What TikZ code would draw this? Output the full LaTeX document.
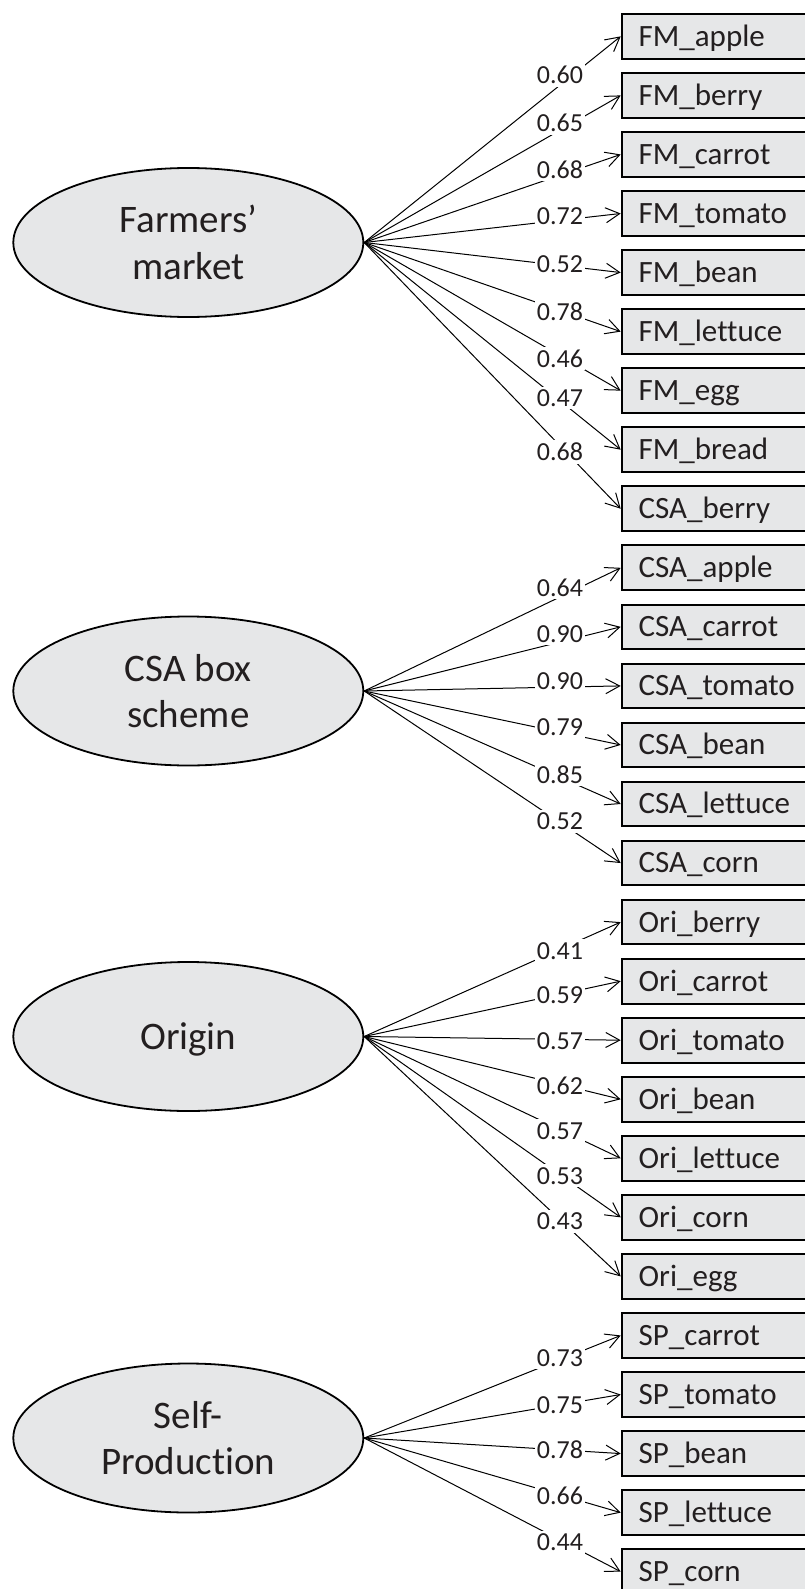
\documentclass[tikz,border=0pt]{standalone}
\usepackage{fontspec}
\setmainfont{Carlito}[Ligatures=NoCommon]
\usetikzlibrary{shapes.geometric,arrows.meta}
\definecolor{fillg}{HTML}{E6E7E8}
\definecolor{txt}{HTML}{231F20}
\begin{document}
\begin{tikzpicture}[x=1pt,y=-1pt,
  latent/.style={ellipse, draw=black, line width=1.8pt, fill=fillg, minimum width=350pt, minimum height=149pt, inner sep=0pt, align=center, text depth=0pt, text=txt, font=\fontsize{39}{46.7}\selectfont},
  obs/.style={rectangle, draw=black, line width=2pt, fill=fillg, anchor=west, minimum height=44.7pt, inner xsep=17pt, inner ysep=0pt, text width=226pt, text height=19.8pt, text depth=0pt, align=left, text=txt, font=\fontsize{31}{36}\selectfont},
  conn/.style={line width=1pt, -{Straight Barb[length=14pt,width=15pt,line width=1pt]}},
  lab/.style={fill=white, inner xsep=2pt, inner ysep=3pt, text depth=0pt, text=txt, font=\fontsize{26}{30}\selectfont}
]
\useasboundingbox (0,0) rectangle (805,1589);
\clip (0,0) rectangle (805,1589);

\node[latent] (e1) at (188.3,242.5) {Farmers’\\market};
\node[latent] (e2) at (188.3,691) {CSA box\\scheme};
\node[latent] (e3) at (188.3,1036.5) {Origin};
\node[latent] (e4) at (188.3,1438) {Self-\\Production};

\foreach \i/\t in {1/FM\_apple, 2/FM\_berry, 3/FM\_carrot, 4/FM\_tomato, 5/FM\_bean, 6/FM\_lettuce, 7/FM\_egg, 8/FM\_bread, 9/CSA\_berry, 10/CSA\_apple, 11/CSA\_carrot, 12/CSA\_tomato, 13/CSA\_bean, 14/CSA\_lettuce, 15/CSA\_corn, 16/Ori\_berry, 17/Ori\_carrot, 18/Ori\_tomato, 19/Ori\_bean, 20/Ori\_lettuce, 21/Ori\_corn, 22/Ori\_egg, 23/SP\_carrot, 24/SP\_tomato, 25/SP\_bean, 26/SP\_lettuce, 27/SP\_corn}
  \node[obs] (b\i) at (620.7,{36.35+(\i-1)*59.05}) {\t};

\foreach \e/\i in {1/1,1/2,1/3,1/4,1/5,1/6,1/7,1/8,1/9,2/10,2/11,2/12,2/13,2/14,2/15,3/16,3/17,3/18,3/19,3/20,3/21,3/22,4/23,4/24,4/25,4/26,4/27}
  \draw[conn] (e\e.east) -- (b\i.west);

\foreach \i/\v/\y in {1/0.60/75, 2/0.65/122.8, 3/0.68/169.5, 4/0.72/216, 5/0.52/264.3, 6/0.78/311.3, 7/0.46/358.3, 8/0.47/398, 9/0.68/451.7, 10/0.64/587.5, 11/0.90/634, 12/0.90/681, 13/0.79/727.5, 14/0.85/774.5, 15/0.52/821.5, 16/0.41/950.8, 17/0.59/994.7, 18/0.57/1041, 19/0.62/1085.8, 20/0.57/1130.8, 21/0.53/1175.8, 22/0.43/1221.3, 23/0.73/1358, 24/0.75/1404.7, 25/0.78/1450, 26/0.66/1496, 27/0.44/1542.5}
  \node[lab] (l\i) at (560,\y) {\v};
\end{tikzpicture}
\end{document}
